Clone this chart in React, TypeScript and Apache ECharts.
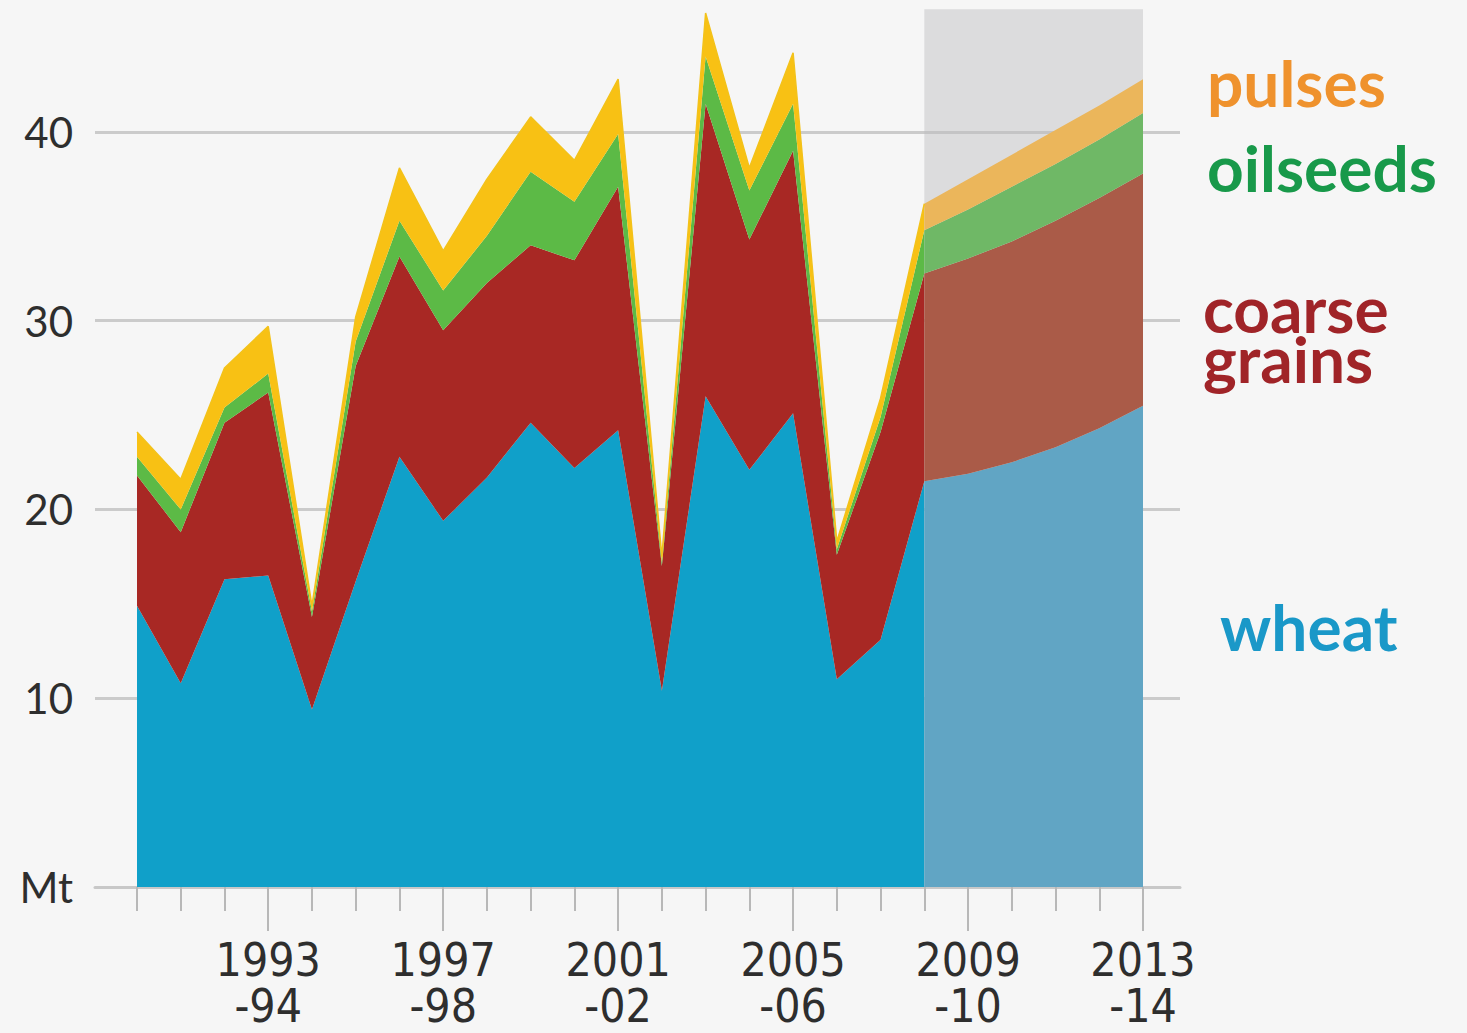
import React, { useEffect, useRef } from 'react';
import * as echarts from 'echarts';

// ---- data ----
const years = [
  '1990-91', '1991-92', '1992-93', '1993-94', '1994-95', '1995-96', '1996-97', '1997-98',
  '1998-99', '1999-00', '2000-01', '2001-02', '2002-03', '2003-04', '2004-05', '2005-06',
  '2006-07', '2007-08', '2008-09', '2009-10', '2010-11', '2011-12', '2012-13', '2013-14',
];
const forecastStart = 18; // index of 2008-09

// historical (1990-91 .. 2008-09), Mt
const histWheat = [14.9, 10.8, 16.3, 16.5, 9.4, 16.2, 22.8, 19.4, 21.7, 24.6, 22.2, 24.2, 10.4, 26.0, 22.1, 25.1, 11.0, 13.1, 21.5];
const histCoarse = [6.9, 8.0, 8.3, 9.7, 4.9, 11.4, 10.6, 10.1, 10.3, 9.4, 11.0, 12.9, 6.6, 15.5, 12.2, 13.9, 6.6, 11.0, 11.0];
const histOilseeds = [1.0, 1.2, 0.8, 1.0, 0.3, 1.3, 1.9, 2.1, 2.5, 3.9, 3.1, 2.8, 0.2, 2.5, 2.6, 2.5, 0.3, 0.8, 2.3];
const histPulses = [1.3, 1.6, 2.1, 2.5, 0.3, 1.3, 2.8, 2.1, 3.0, 2.9, 2.2, 2.9, 0.3, 2.3, 1.2, 2.7, 0.4, 1.0, 1.4];

// projections (2008-09 .. 2013-14), Mt
const foreWheat = [21.5, 21.9, 22.5, 23.3, 24.3, 25.5];
const foreCoarse = [11.0, 11.4, 11.7, 12.0, 12.2, 12.3];
const foreOilseeds = [2.3, 2.6, 2.9, 3.0, 3.1, 3.2];
const forePulses = [1.4, 1.6, 1.7, 1.8, 1.8, 1.8];

const yTickValues = [0, 10, 20, 30, 40];
const yUnitLabel = 'Mt';
const seriesNames = ['wheat', 'coarse grains', 'oilseeds', 'pulses'];
const legendTexts = ['wheat', 'coarse\ngrains', 'oilseeds', 'pulses'];

// ---- helpers ----
const padHist = (arr: number[]) => arr.concat(new Array(years.length - arr.length).fill(null));
const padFore = (arr: number[]) => new Array(forecastStart).fill(null).concat(arr);

const histColors = ['#10a0c9', '#a82824', '#5cba46', '#f8c114'];
const foreColors = ['#61a5c4', '#aa5b48', '#6fb866', '#ebb65b'];
const labelColors = ['#1a98c8', '#a02428', '#18994a', '#ef922d'];

export default function App() {
  const ref = useRef<HTMLDivElement>(null);

  useEffect(() => {
    document.body.style.margin = '0';
    if (!ref.current) return;
    const chart = echarts.init(ref.current, null, { renderer: 'svg' });

    const H = 1033;
    const axisBottomY = 887;
    const yMax = 46.5;
    const gridTop = 9.3;
    const gridBottom = H - axisBottomY;

    const hist = [histWheat, histCoarse, histOilseeds, histPulses];
    const fore = [foreWheat, foreCoarse, foreOilseeds, forePulses];

    const series: any[] = [];
    hist.forEach((arr, k) => {
      series.push({
        name: seriesNames[k],
        type: 'line',
        xAxisIndex: 1,
        yAxisIndex: 1,
        stack: 'hist',
        data: padHist(arr),
        symbol: 'none',
        showSymbol: false,
        z: 3,
        lineStyle: k === 3 ? { width: 1.5, color: '#f3c21a' } : { width: 0 },
        areaStyle: { color: histColors[k], opacity: 1 },
      });
    });
    fore.forEach((arr, k) => {
      const s: any = {
        name: seriesNames[k] + ' (projected)',
        type: 'line',
        xAxisIndex: 1,
        yAxisIndex: 1,
        stack: 'fore',
        data: padFore(arr),
        symbol: 'none',
        showSymbol: false,
        z: 3,
        lineStyle: { width: 0 },
        areaStyle: { color: foreColors[k], opacity: 1 },
      };
      if (k === 0) {
        s.markArea = {
          silent: true,
          z: 1,
          itemStyle: { color: 'rgba(188,188,190,0.45)' },
          data: [[{ xAxis: years[forecastStart] }, { xAxis: years[years.length - 1] }]],
        };
      }
      series.push(s);
    });

    const tickFont = '"Liberation Sans Narrow", "DejaVu Sans Condensed", "Open Sans", sans-serif';
    const labelFont = 'Lato, "Open Sans", sans-serif';

    const legendStyle = (k: number) => ({
      text: legendTexts[k],
      fill: labelColors[k],
      fontSize: 64,
      lineHeight: 50,
      fontWeight: 'bold',
      fontFamily: labelFont,
      verticalAlign: 'middle',
    });

    const option: any = {
      animation: false,
      backgroundColor: '#f6f6f6',
      grid: [
        { left: 95, right: 1467 - 1180, top: gridTop, bottom: gridBottom },
        { left: 137, right: 1467 - 1143, top: gridTop, bottom: gridBottom },
      ],
      xAxis: [
        {
          gridIndex: 0, type: 'value', min: 0, max: 1,
          axisLine: { show: true, lineStyle: { color: '#c8c8c8', width: 3 } },
          axisTick: { show: false }, axisLabel: { show: false }, splitLine: { show: false },
        },
        {
          gridIndex: 1, type: 'category', data: years, boundaryGap: false, position: 'bottom',
          axisLine: { show: false },
          axisTick: { show: true, interval: 0, length: 24, lineStyle: { color: '#b8b8b8', width: 2 } },
          axisLabel: { show: false }, splitLine: { show: false },
        },
        {
          gridIndex: 1, type: 'category', data: years, boundaryGap: false, position: 'bottom',
          axisLine: { show: false },
          axisTick: {
            show: true, length: 44,
            interval: (i: number) => i % 4 === 3,
            lineStyle: { color: '#b8b8b8', width: 2 },
          },
          axisLabel: {
            show: true,
            interval: (i: number) => i % 4 === 3,
            formatter: (v: string) => v.slice(0, 4) + '\n-' + v.slice(5),
            fontSize: 46,
            lineHeight: 46,
            color: '#2e2e2e',
            fontFamily: tickFont,
            margin: 50,
          },
          splitLine: { show: false },
        },
      ],
      yAxis: [
        {
          gridIndex: 0, type: 'value', min: yTickValues[0], max: yMax, interval: 10,
          axisLine: { show: false }, axisTick: { show: false },
          splitLine: { show: true, showMaxLine: false, lineStyle: { color: '#cbcbcb', width: 3 } },
          axisLabel: {
            show: true, showMaxLabel: false,
            formatter: (v: number) => (v === 0 ? yUnitLabel : yTickValues.includes(v) ? String(v) : ''),
            fontSize: 42, color: '#2e2e2e', fontFamily: labelFont, margin: 22,
          },
        },
        { gridIndex: 1, type: 'value', min: 0, max: yMax, show: false, splitLine: { show: false } },
      ],
      graphic: [
        { type: 'text', x: 1207, y: 82, style: legendStyle(3) },
        { type: 'text', x: 1207, y: 167, style: legendStyle(2) },
        { type: 'text', x: 1203, y: 333, style: legendStyle(1) },
        { type: 'text', x: 1220, y: 626, style: legendStyle(0) },
      ],
      series,
    };

    chart.setOption(option);
    return () => chart.dispose();
  }, []);

  return <div ref={ref} style={{ width: 1467, height: 1033 }} />;
}
